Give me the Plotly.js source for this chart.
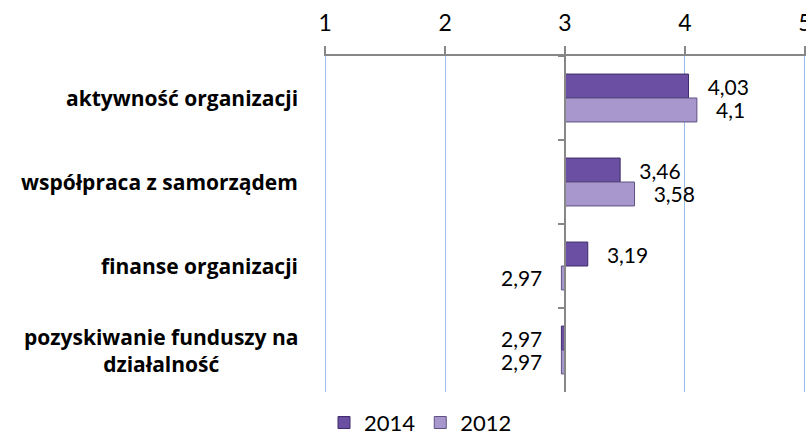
<!DOCTYPE html>
<html>
<head>
<meta charset="utf-8">
<script src="https://cdn.plot.ly/plotly-3.0.1.min.js"></script>
<style>html,body{margin:0;padding:0;background:#fff;}#chart{width:806px;height:440px;}</style>
</head>
<body>
<div id="chart"></div>
<script>
const categories = ["aktywność organizacji", "współpraca z samorządem", "finanse organizacji", "pozyskiwanie funduszy na<br>działalność"];
const values2014 = [4.03, 3.46, 3.19, 2.97];
const values2012 = [4.1, 3.58, 2.97, 2.97];
const baseValue = 3;
const xTicks = [1, 2, 3, 4, 5];
const seriesNames = ["2014", "2012"];

const FONT = "Lato, 'Liberation Sans', sans-serif";
const BOLDFONT = "'Open Sans', 'Liberation Sans', sans-serif";
const NB = "\u00a0";
function fmt(v) { return String(v).replace(".", ","); }
function labels(vals) {
  return vals.map(v => v >= baseValue ? NB.repeat(3) + fmt(v) : fmt(v) + NB.repeat(3));
}
const catIds = categories.map((c, i) => "c" + i);

function makeTrace(name, vals, color, line) {
  return {
    type: "bar",
    orientation: "h",
    name: name,
    y: catIds,
    x: vals.map(v => v - baseValue),
    base: baseValue,
    text: labels(vals),
    textposition: "outside",
    textfont: {family: FONT, size: 21, color: "#000"},
    constraintext: "none",
    cliponaxis: false,
    hoverinfo: "skip",
    marker: {color: color, line: {color: line, width: 1}}
  };
}

const data = [
  makeTrace(seriesNames[0], values2014, "#6b4fa3", "#3e2c68"),
  makeTrace(seriesNames[1], values2012, "#a797cc", "#5f5183")
];

const annotations = categories.map((c, i) => ({
  xref: "paper", yref: "y", x: 0, y: catIds[i], xanchor: "right", yanchor: "middle",
  xshift: -24, text: "<b>" + c.replace("<br>", "</b><br><b>") + "</b>", showarrow: false, align: "center",
  font: {family: BOLDFONT, size: 21, color: "#000"}
}));

const layout = {
  width: 806, height: 440,
  margin: {l: 324, r: 0, t: 56, b: 48, autoexpand: false},
  paper_bgcolor: "#fff", plot_bgcolor: "#fff",
  barmode: "group", bargap: 0.43, bargroupgap: 0,
  showlegend: true,
  legend: {orientation: "h", xref: "paper", x: 0.0, xanchor: "left",
    yref: "container", y: 0.087, yanchor: "top",
    font: {family: FONT, size: 22, color: "#000"},
    itemwidth: 30, traceorder: "normal"},
  xaxis: {
    side: "top", range: [0.99, 5.01], tickvals: xTicks, ticktext: xTicks.map(String),
    ticklabeloverflow: "allow",
    showgrid: true, gridcolor: "#9fbde9", gridwidth: 1,
    showline: true, linecolor: "#878787", linewidth: 2,
    ticks: "outside", ticklen: 8, tickcolor: "#878787", tickwidth: 2,
    tickfont: {family: FONT, size: 23, color: "#000"},
    ticklabelstandoff: 6,
    zeroline: false, fixedrange: true
  },
  yaxis: {
    type: "category", autorange: "reversed",
    anchor: "free", position: 0.5,
    showline: true, linecolor: "#878787", linewidth: 2,
    ticks: "outside", tickson: "boundaries", ticklen: 6, tickcolor: "#878787", tickwidth: 2,
    showticklabels: false, showgrid: false, zeroline: false, fixedrange: true
  },
  annotations: annotations
};

Plotly.newPlot("chart", data, layout, {displayModeBar: false, staticPlot: true});
</script>
</body>
</html>
